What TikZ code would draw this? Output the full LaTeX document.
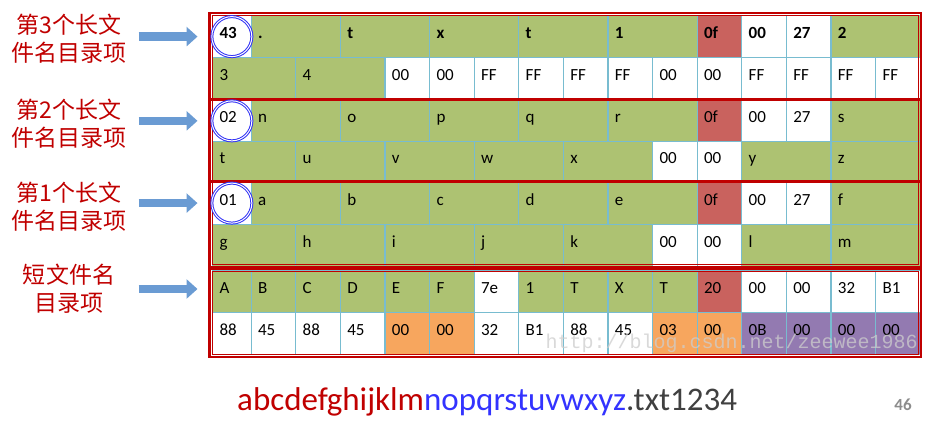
\documentclass[tikz,border=0pt]{standalone}
\usepackage{fontspec}
\setmainfont{Carlito}
\newfontfamily\cjk{Noto Sans CJK SC}
\newfontfamily\wmark{Liberation Mono}
\usetikzlibrary{arrows.meta,positioning}
\definecolor{cgreen}{RGB}{173,194,114}
\definecolor{cred}{RGB}{201,98,94}
\definecolor{corange}{RGB}{247,166,94}
\definecolor{cpurple}{RGB}{147,122,177}
\definecolor{cline}{RGB}{120,188,208}
\definecolor{fred}{RGB}{192,0,0}
\definecolor{fblue}{RGB}{51,51,255}
\definecolor{fgray}{RGB}{64,64,64}
\definecolor{pgray}{RGB}{140,140,140}
\definecolor{abar}{RGB}{106,155,211}
\definecolor{rblue}{RGB}{50,50,245}
\definecolor{wgray}{RGB}{205,205,205}
\tikzset{
    %Define standard arrow tip
    >=Triangle,
    %Define style for table cells
    cell/.style={
           rectangle,
           draw=cline, line width=1.2pt,
           inner xsep=7pt, inner ysep=0pt,
           align=left,
           text height=12pt, text depth=8pt,
           font=\fontsize{17}{20}\selectfont},
    gcell/.style={fill=cgreen},
    wcell/.style={fill=white},
    rcell/.style={fill=cred},
    ocell/.style={fill=corange},
    pcell/.style={fill=cpurple},
    bcell/.style={fill=white, font=\bfseries\fontsize{17}{20}\selectfont},
    bgcell/.style={fill=cgreen, font=\bfseries\fontsize{17}{20}\selectfont},
    brcell/.style={fill=cred, font=\bfseries\fontsize{17}{20}\selectfont},
    %Define style for the labels on the left
    lbl/.style={
           text=fred,
           align=center,
           inner sep=0pt,
           font=\cjk\fontsize{23}{28}\selectfont},
    % Define frame and circle styles
    frame/.style={
           draw=fred,
           line width=2.2pt},
    innerframe/.style={
           draw=fred,
           line width=0.7pt},
    sep/.style={
           draw=fred,
           line width=3pt},
    ring/.style={
           circle,
           draw=rblue,
           line width=1pt,
           double=white,
           double distance=1pt,
           minimum size=40pt,
           inner sep=0pt},
    % Define arrow style
    bigarr/.style={
           draw=abar,
           line width=8.5pt,
           -{Triangle[length=11pt,width=19pt]}}
}
% name, top, height, first column, span, style, text
\newcommand{\cellat}[7]{%
  \pgfmathsetmacro{\cx}{#4==1 ? 212 : 250.5+(#4-2)*44.6}%
  \pgfmathsetmacro{\cw}{#4==1 ? 38.5+(#5-1)*44.6 : #5*44.6}%
  \pgfmathsetmacro{\tw}{\cw-14}%
  \node[cell, #6, text width=\tw pt, minimum height=#3pt, anchor=north west]
    (#1) at (\cx,#2) {#7};%
}
\begin{document}
\begin{tikzpicture}[x=1pt,y=-1pt]
  \useasboundingbox (0,0) rectangle (931,425);

  % 3rd long entry
  \foreach \c/\s/\f/\t in {1/1/bcell/43, 2/2/bgcell/., 4/2/bgcell/t, 6/2/bgcell/x,
      8/2/bgcell/t, 10/2/bgcell/1, 12/1/brcell/0f, 13/1/bcell/00, 14/1/bcell/27, 15/2/bgcell/2}
    \cellat{l3a-\c}{15}{42}{\c}{\s}{\f}{\t};
  \foreach \c/\s/\f/\t in {1/2/gcell/3, 3/2/gcell/4, 5/1/wcell/00, 6/1/wcell/00,
      7/1/wcell/FF, 8/1/wcell/FF, 9/1/wcell/FF, 10/1/wcell/FF, 11/1/wcell/00,
      12/1/wcell/00, 13/1/wcell/FF, 14/1/wcell/FF, 15/1/wcell/FF, 16/1/wcell/FF}
    \cellat{l3b-\c}{57}{42}{\c}{\s}{\f}{\t};

  % 2nd long entry
  \foreach \c/\s/\f/\t in {1/1/wcell/02, 2/2/gcell/n, 4/2/gcell/o, 6/2/gcell/p,
      8/2/gcell/q, 10/2/gcell/r, 12/1/rcell/0f, 13/1/wcell/00, 14/1/wcell/27, 15/2/gcell/s}
    \cellat{l2a-\c}{100}{40.5}{\c}{\s}{\f}{\t};
  \foreach \c/\s/\f/\t in {1/2/gcell/t, 3/2/gcell/u, 5/2/gcell/v, 7/2/gcell/w,
      9/2/gcell/x, 11/1/wcell/00, 12/1/wcell/00, 13/2/gcell/y, 15/2/gcell/z}
    \cellat{l2b-\c}{140.5}{40.5}{\c}{\s}{\f}{\t};

  % 1st long entry
  \foreach \c/\s/\f/\t in {1/1/wcell/01, 2/2/gcell/a, 4/2/gcell/b, 6/2/gcell/c,
      8/2/gcell/d, 10/2/gcell/e, 12/1/rcell/0f, 13/1/wcell/00, 14/1/wcell/27, 15/2/gcell/f}
    \cellat{l1a-\c}{181}{43}{\c}{\s}{\f}{\t};
  \foreach \c/\s/\f/\t in {1/2/gcell/g, 3/2/gcell/h, 5/2/gcell/i, 7/2/gcell/j,
      9/2/gcell/k, 11/1/wcell/00, 12/1/wcell/00, 13/2/gcell/l, 15/2/gcell/m}
    \cellat{l1b-\c}{224}{42}{\c}{\s}{\f}{\t};

  % short entry
  \foreach \c/\s/\f/\t in {1/1/gcell/A, 2/1/gcell/B, 3/1/gcell/C, 4/1/gcell/D,
      5/1/gcell/E, 6/1/gcell/F, 7/1/wcell/7e, 8/1/gcell/1, 9/1/gcell/T, 10/1/gcell/X,
      11/1/gcell/T, 12/1/rcell/20, 13/1/wcell/00, 14/1/wcell/00, 15/1/wcell/32, 16/1/wcell/B1}
    \cellat{sa-\c}{270}{42}{\c}{\s}{\f}{\t};
  \foreach \c/\s/\f/\t in {1/1/wcell/88, 2/1/wcell/45, 3/1/wcell/88, 4/1/wcell/45,
      5/1/ocell/00, 6/1/ocell/00, 7/1/wcell/32, 8/1/wcell/B1, 9/1/wcell/88, 10/1/wcell/45,
      11/1/ocell/03, 12/1/ocell/00, 13/1/pcell/0B, 14/1/pcell/00, 15/1/pcell/00, 16/1/pcell/00}
    \cellat{sb-\c}{312}{42}{\c}{\s}{\f}{\t};

  % frames
  \coordinate (tl) at (209.5,13);
  \coordinate (tr) at (921,267);
  \coordinate (sl) at (209.5,268.5);
  \coordinate (sr) at (921,357);
  \draw[sep] (tl |- l2a-1.north) -- (tr |- l2a-1.north);
  \draw[sep] (tl |- l1a-1.north) -- (tr |- l1a-1.north);
  \draw[frame] (tl) rectangle (tr);
  \draw[frame] (sl) rectangle (sr);
  \draw[innerframe] ([shift={(2.6,2.6)}]tl) rectangle ([shift={(-2.6,-2.6)}]tr);
  \draw[innerframe] ([shift={(2.6,2.6)}]sl) rectangle ([shift={(-2.6,-2.6)}]sr);

  % sequence numbers
  \node[ring] (ring3) at (l3a-1.center) {};
  \node[ring] (ring2) at (l2a-1.center) {};
  \node[ring] (ring1) at (l1a-1.center) {};

  % labels
  \node[lbl] (lab3) at (69,39) {第3个长文\\件名目录项};
  \node[lbl] (lab2) at (69,124) {第2个长文\\件名目录项};
  \node[lbl] (lab1) at (69,207) {第1个长文\\件名目录项};
  \node[lbl] (lab0) at (69,289) {短文件名\\目录项};

  \draw[bigarr] ([xshift=12pt]lab3.east |- ring3) -- ([xshift=-12pt]tl |- ring3);
  \draw[bigarr] ([xshift=12pt]lab3.east |- ring2) -- ([xshift=-12pt]tl |- ring2);
  \draw[bigarr] ([xshift=12pt]lab3.east |- ring1) -- ([xshift=-12pt]tl |- ring1);
  \draw[bigarr] ([xshift=12pt]lab3.east |- lab0) -- ([xshift=-12pt]tl |- lab0);

  % watermark
  \node[anchor=base east, inner sep=0pt, text=wgray, opacity=0.75,
        font=\wmark\fontsize{20}{24}\selectfont] (wm) at (918,348)
        {http://blog.csdn.net/zeewee1986};

  % file name and page number
  \node[anchor=base west, inner sep=0pt, font=\fontsize{33}{40}\selectfont] (fname) at (237,410)
        {\textcolor{fred}{abcdefghijklm}\textcolor{fblue}{nopqrstuvwxyz}\textcolor{fgray}{.txt1234}};
  \node[anchor=base, inner sep=0pt, text=pgray,
        font=\bfseries\fontsize{17}{20}\selectfont] (pnum) at (903,410) {46};
\end{tikzpicture}
\end{document}
